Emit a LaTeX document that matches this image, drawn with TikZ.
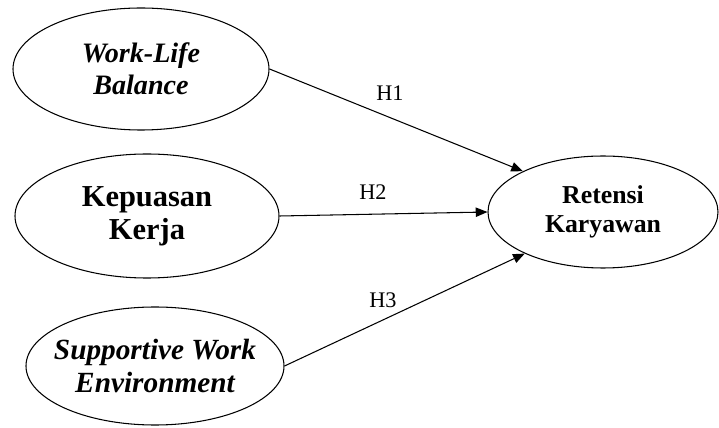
\documentclass[tikz,border=0pt]{standalone}
\usepackage{fontspec}
\setmainfont{Liberation Serif}
\usepackage{tikz}
\usetikzlibrary{calc, positioning}
\usetikzlibrary{shapes.geometric, arrows.meta}

\begin{document}
\begin{tikzpicture}[x=0.03cm, y=-0.03cm,
        construct/.style={draw, ellipse, line width=0.9pt, inner sep=0pt, align=center},
        path/.style={line width=0.9pt, -{Triangle[length=10pt, width=8pt]}},
        hyp/.style={font=\fontsize{19}{21}\selectfont}]
            \useasboundingbox (0,0) rectangle (719,428);

            % the three predictors on the left
            \node[construct, minimum width=7.68cm, minimum height=3.66cm,
                  font=\fontsize{24}{27}\selectfont\bfseries\itshape]
                  (wlb) at (141,69) {Work-Life\\Balance};
            \node[construct, minimum width=7.92cm, minimum height=3.72cm,
                  font=\fontsize{26}{28}\selectfont\bfseries]
                  (kep) at (147,216) {Kepuasan\\Kerja};
            % text wider than the ellipse, so keep its box narrow
            \node[construct, minimum width=7.74cm, minimum height=3.54cm,
                  font=\fontsize{25}{28}\selectfont\bfseries\itshape]
                  (swe) at (155,366) {\makebox[0pt]{Supportive Work}\\\makebox[0pt]{Environment}};

            % the outcome
            \node[construct, minimum width=6.9cm, minimum height=3.36cm,
                  font=\fontsize{22}{25}\selectfont\bfseries]
                  (ret) at (603,212) {Retensi\\Karyawan};

            \draw[path] (wlb.east) -- (ret.153);
            \draw[path] (kep.east) -- (ret.west);
            \draw[path] (swe.east) -- (ret.208);

            \node[hyp] (h1) at (390,93) {H1};
            \node[hyp] (h2) at (373,192) {H2};
            \node[hyp] (h3) at (383,300) {H3};

        \end{tikzpicture}
\end{document}
